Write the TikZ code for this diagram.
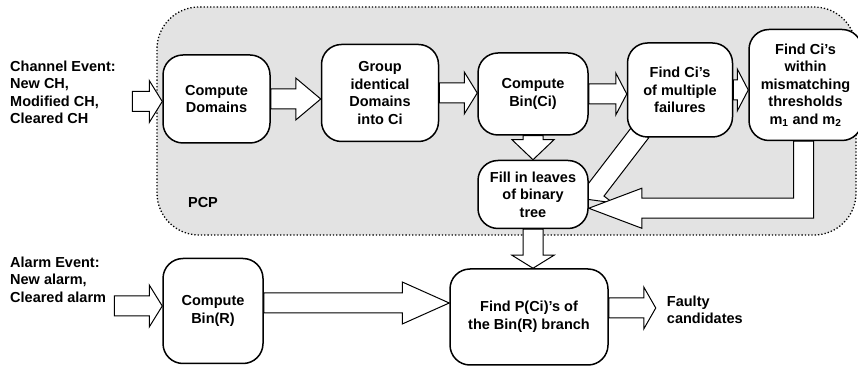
\documentclass[tikz,border=0pt]{standalone}
\usepackage{fontspec}
\setmainfont{Liberation Sans}
\usetikzlibrary{positioning,calc,backgrounds}

% hollow block arrow: [head length]{from}{to}
\newcommand{\fatarrow}[3][13pt]{%
  \coordinate (fa-h) at ($(#3)!#1!(#2)$);
  \draw[fat] ($(#2)!10pt!90:(#3)$) -- ($(fa-h)!10pt!90:(#3)$) -- ($(fa-h)!21pt!90:(#3)$)
    -- (#3) -- ($(fa-h)!21pt!-90:(#3)$) -- ($(fa-h)!10pt!-90:(#3)$) -- ($(#2)!10pt!-90:(#3)$) -- cycle;
}

\begin{document}
\begin{tikzpicture}[
  x=1pt,y=1pt,
  font=\bfseries\fontsize{14.5}{17.5}\selectfont,
  box/.style={rounded corners=20pt,draw,line width=1.5pt,fill=white,align=center,inner sep=2pt},
  txt/.style={align=left,inner sep=0pt},
  fat/.style={draw,line width=1pt,fill=white,line join=miter},
  pcparea/.style={draw,dotted,line width=1.3pt,fill=black!11,rounded corners=42pt}
]
\useasboundingbox (0,0) rectangle (858,366);

% ---- PCP row ----
\node[box,minimum width=107pt,minimum height=88pt] (dom) at (216.5,267) {Compute\\Domains};
\node[box,minimum width=117pt,minimum height=97pt,right=50pt of dom,yshift=6pt] (grp) {Group\\identical\\Domains\\into Ci};
\node[box,minimum width=110pt,minimum height=82pt,right=38pt of grp,yshift=-1pt] (bin) {Compute\\Bin(Ci)};
\node[box,minimum width=105pt,minimum height=94pt,right=38pt of bin,yshift=4pt] (mult) {Find Ci's\\of multiple\\failures};
\node[box,minimum width=113pt,minimum height=111pt,right=15pt of mult,yshift=5pt] (thr) {Find Ci's\\within\\mismatching\\thresholds\\m\textsubscript{1} and m\textsubscript{2}};
\node[box,minimum width=110pt,minimum height=68pt,below=24pt of bin] (fill) {Fill in leaves\\of binary\\tree};

% ---- alarm row ----
\node[box,minimum width=100pt,minimum height=105pt,below=114pt of dom,xshift=-3.5pt] (binr) {Compute\\Bin(R)};
\node[box,minimum width=158pt,minimum height=96pt,below=39pt of fill,xshift=-4pt] (findp) {Find P(Ci)'s of\\the Bin(R) branch};

% ---- labels ----
\node[txt,anchor=west] (chan) at (10,273.5) {Channel Event:\\New CH,\\Modified CH,\\Cleared CH};
\node[txt,anchor=west] (alarm) at (10,86.5) {Alarm Event:\\New alarm,\\Cleared alarm};
\node[txt] (pcp) at (203,163) {PCP};

\coordinate (fpo) at ($(findp.east)+(0,9pt)$);
\coordinate (fpe) at ($(fpo)+(47pt,0)$);
\node[txt,right=11pt of fpe,yshift=-2pt] (faulty) {Faulty\\candidates};

\begin{scope}[on background layer]
  % PCP area
  \draw[pcparea] (157,131) rectangle (856,359);

  % ---- inputs ----
  \coordinate (cin) at ($(dom.west)+(-30pt,-2.5pt)$);
  \fatarrow{cin}{cin -| dom.west}
  \coordinate (ain) at ($(binr.west)+(-48pt,5pt)$);
  \fatarrow{ain}{ain -| binr.west}

  % ---- PCP flow ----
  \fatarrow[25pt]{dom.east}{dom.east -| grp.west}
  \fatarrow{grp.east}{grp.east -| bin.west}
  \fatarrow[11pt]{bin.east}{bin.east -| mult.west}
  \fatarrow[11pt]{mult.east}{mult.east -| thr.west}
  \fatarrow[20pt]{bin.south}{fill.north}

  \coordinate (dgs) at ($(mult.south west)+(14pt,6pt)$);
  \coordinate (dgt) at ($(fill.east)+(0,-5pt)$);
  \fatarrow[12pt]{dgs}{dgt}

  % L-shaped return from thresholds
  \coordinate (lc) at ($(thr.south)+(-2pt,-67pt)$);
  \coordinate (lt) at (lc -| fill.east);
  \draw[fat] ($(thr.south -| lc)+(-10pt,0)$) -- ($(lc)+(-10pt,10pt)$) -- ($(lt)+(53pt,10pt)$)
    -- ($(lt)+(53pt,20pt)$) -- (lt) -- ($(lt)+(53pt,-20pt)$) -- ($(lt)+(53pt,-10pt)$)
    -- ($(lc)+(10pt,-10pt)$) -- ($(thr.south -| lc)+(10pt,0)$) -- cycle;

  % ---- to the result ----
  \fatarrow{fill.south}{fill.south |- findp.north}
  \coordinate (bro) at ($(binr.east)+(0,8pt)$);
  \fatarrow[47pt]{bro}{bro -| findp.west}
  \fatarrow[12pt]{fpo}{fpe}
\end{scope}

\end{tikzpicture}
\end{document}
